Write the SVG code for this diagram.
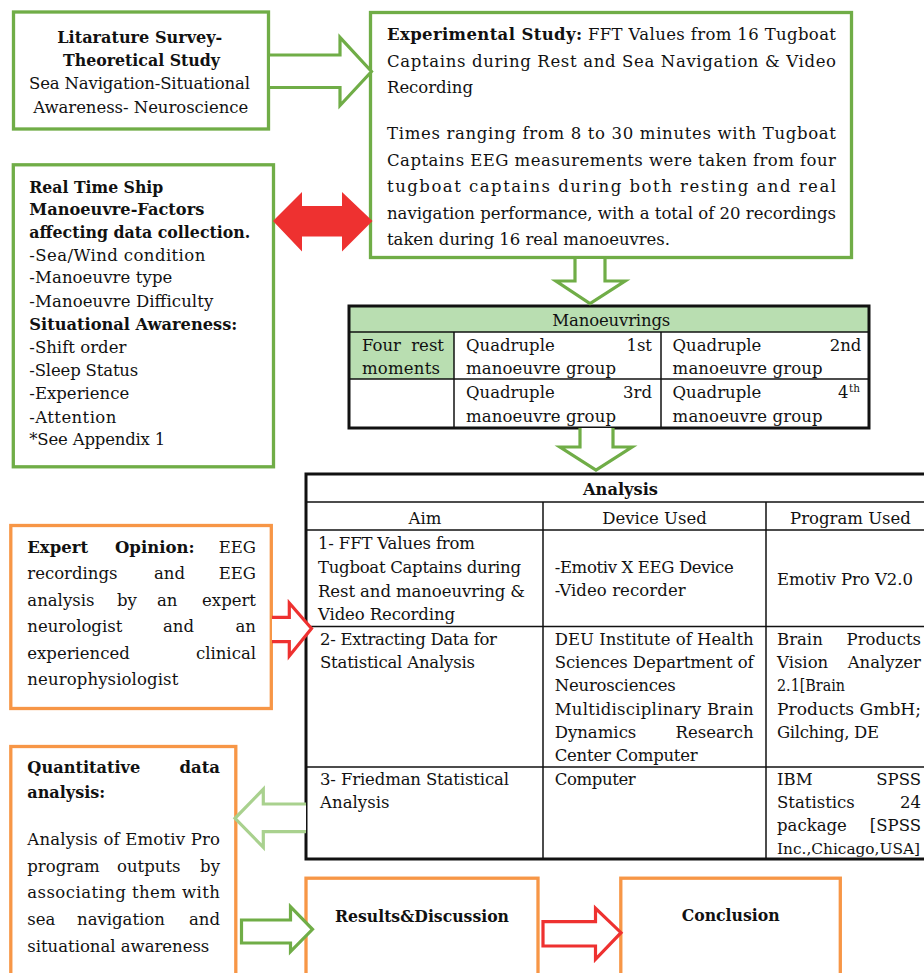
<svg xmlns="http://www.w3.org/2000/svg" width="924" height="973" viewBox="0 0 924 973">
<style>
.t{font-family:"DejaVu Serif","Liberation Serif",serif;font-size:16.5px;fill:#111}
.b{font-weight:bold}
.e{text-anchor:end}
.m{text-anchor:middle}
.gbox{fill:#fff;stroke:#70AD47;stroke-width:3.3}
.obox{fill:#fff;stroke:#F79646;stroke-width:3.3}
.tbl{fill:none;stroke:#111;stroke-width:3}
.ln{stroke:#111;stroke-width:1.5;fill:none}
.hdr{fill:#B9DEB1}
.ag{fill:#fff;stroke:#70AD47;stroke-width:3.2;stroke-linejoin:miter}
.agl{fill:#fff;stroke:#A9D18E;stroke-width:3.2}
.ar{fill:#fff;stroke:#EE3130;stroke-width:3.2}
</style>
<rect width="924" height="973" fill="#fff"/>

<g id="literature">
<rect class="gbox" x="13.5" y="12" width="255" height="117"/>
<text class="t b" x="57.3" y="43.3" textLength="165" lengthAdjust="spacingAndGlyphs">Litarature Survey-</text>
<text class="t b" x="63" y="66.3" textLength="157" lengthAdjust="spacingAndGlyphs">Theoretical Study</text>
<text class="t" x="29" y="89.3" textLength="221">Sea Navigation-Situational</text>
<text class="t" x="33.3" y="112.5" textLength="215">Awareness- Neuroscience</text>
</g>

<g id="experimental">
<rect class="gbox" x="370.5" y="12.5" width="481" height="245"/>
<text class="t" x="387" y="40" textLength="449"><tspan class="b">Experimental Study:</tspan> FFT Values from 16 Tugboat</text>
<text class="t" x="387" y="66.5" textLength="449">Captains during Rest and Sea Navigation &amp; Video</text>
<text class="t" x="387" y="92.5" textLength="86">Recording</text>
<text class="t" x="387" y="139" textLength="449">Times ranging from 8 to 30 minutes with Tugboat</text>
<text class="t" x="387" y="165.5" textLength="449">Captains EEG measurements were taken from four</text>
<text class="t" x="387" y="192" textLength="449">tugboat captains during both resting and real</text>
<text class="t" x="387" y="218.5" textLength="449" lengthAdjust="spacingAndGlyphs">navigation performance, with a total of 20 recordings</text>
<text class="t" x="387" y="245" textLength="283">taken during 16 real manoeuvres.</text>
</g>

<g id="realtime">
<rect class="gbox" x="13.3" y="164.8" width="260.2" height="302"/>
<text class="t b" x="29.3" y="192.7" textLength="134" lengthAdjust="spacingAndGlyphs">Real Time Ship</text>
<text class="t b" x="29.3" y="215.3" textLength="175" lengthAdjust="spacingAndGlyphs">Manoeuvre-Factors</text>
<text class="t b" x="29.3" y="237.7" textLength="221" lengthAdjust="spacingAndGlyphs">affecting data collection.</text>
<text class="t" x="29.3" y="260.5" textLength="176">-Sea/Wind condition</text>
<text class="t" x="29.3" y="283" textLength="143">-Manoeuvre type</text>
<text class="t" x="29.3" y="306.5" textLength="184">-Manoeuvre Difficulty</text>
<text class="t b" x="29.3" y="330" textLength="208" lengthAdjust="spacingAndGlyphs">Situational Awareness:</text>
<text class="t" x="29.3" y="353" textLength="97">-Shift order</text>
<text class="t" x="29.3" y="376" textLength="109">-Sleep Status</text>
<text class="t" x="29.3" y="399" textLength="100">-Experience</text>
<text class="t" x="29.3" y="422.5" textLength="87">-Attention</text>
<text class="t" x="29.3" y="445.3" textLength="136">*See Appendix 1</text>
</g>

<g id="manoeuvrings">
<rect class="hdr" x="349" y="306" width="520" height="26"/>
<rect class="hdr" x="349" y="332" width="105" height="47"/>
<line class="ln" x1="349" y1="332" x2="869" y2="332"/>
<line class="ln" x1="349" y1="379" x2="869" y2="379"/>
<line class="ln" x1="454" y1="332" x2="454" y2="428"/>
<line class="ln" x1="661" y1="332" x2="661" y2="428"/>
<rect class="tbl" x="349" y="306" width="520" height="122"/>
<text class="t" x="552.3" y="326" textLength="118">Manoeuvrings</text>
<text class="t" x="362" y="351">Four</text>
<text class="t e" x="444" y="351">rest</text>
<text class="t" x="362" y="374" textLength="78">moments</text>
<text class="t" x="466" y="351">Quadruple</text>
<text class="t e" x="652" y="351">1st</text>
<text class="t" x="466" y="374" textLength="150">manoeuvre group</text>
<text class="t" x="672.6" y="351">Quadruple</text>
<text class="t e" x="861.4" y="351">2nd</text>
<text class="t" x="672.6" y="374" textLength="150">manoeuvre group</text>
<text class="t" x="466" y="398">Quadruple</text>
<text class="t e" x="652" y="398">3rd</text>
<text class="t" x="466" y="421.5" textLength="150">manoeuvre group</text>
<text class="t" x="672.6" y="398">Quadruple</text>
<text class="t e" x="848.6" y="398">4</text>
<text class="t" x="849" y="392" style="font-size:10.5px">th</text>
<text class="t" x="672.6" y="421.5" textLength="150">manoeuvre group</text>
</g>

<g id="analysis">
<line class="ln" x1="306" y1="502" x2="934" y2="502"/>
<line class="ln" x1="306" y1="530" x2="934" y2="530"/>
<line class="ln" x1="306" y1="626.5" x2="934" y2="626.5"/>
<line class="ln" x1="306" y1="767" x2="934" y2="767"/>
<line class="ln" x1="543" y1="502" x2="543" y2="859"/>
<line class="ln" x1="766" y1="502" x2="766" y2="859"/>
<rect class="tbl" x="306" y="474" width="628" height="385"/>
<text class="t b" x="583" y="495" textLength="75" lengthAdjust="spacingAndGlyphs">Analysis</text>
<text class="t m" x="425" y="524">Aim</text>
<text class="t m" x="654.5" y="524">Device Used</text>
<text class="t m" x="850.5" y="524">Program Used</text>
<text class="t" x="318" y="549" textLength="157">1- FFT Values from</text>
<text class="t" x="318" y="573" textLength="203">Tugboat Captains during</text>
<text class="t" x="318" y="597" textLength="207">Rest and manoeuvring &amp;</text>
<text class="t" x="318" y="620" textLength="137">Video Recording</text>
<text class="t" x="554.7" y="572.5" textLength="179">-Emotiv X EEG Device</text>
<text class="t" x="554.7" y="596" textLength="131">-Video recorder</text>
<text class="t" x="777" y="585" textLength="136">Emotiv Pro V2.0</text>
<text class="t" x="320" y="645" textLength="177">2- Extracting Data for</text>
<text class="t" x="320" y="668" textLength="155">Statistical Analysis</text>
<text class="t" x="554.7" y="645" textLength="199">DEU Institute of Health</text>
<text class="t" x="554.7" y="668" textLength="199">Sciences Department of</text>
<text class="t" x="554.7" y="691" textLength="121">Neurosciences</text>
<text class="t" x="554.7" y="714.5" textLength="199">Multidisciplinary Brain</text>
<text class="t" x="554.7" y="738">Dynamics</text>
<text class="t e" x="753.6" y="738">Research</text>
<text class="t" x="554.7" y="761" textLength="143">Center Computer</text>
<text class="t" x="777" y="645">Brain</text>
<text class="t e" x="921" y="645">Products</text>
<text class="t" x="777" y="668">Vision</text>
<text class="t e" x="921" y="668">Analyzer</text>
<text class="t" x="777" y="691" textLength="68" lengthAdjust="spacingAndGlyphs">2.1[Brain</text>
<text class="t" x="777" y="714.5" textLength="144" lengthAdjust="spacingAndGlyphs">Products GmbH;</text>
<text class="t" x="777" y="738" textLength="102">Gilching, DE</text>
<text class="t" x="320" y="785" textLength="189">3- Friedman Statistical</text>
<text class="t" x="320" y="808" textLength="69.5">Analysis</text>
<text class="t" x="554.7" y="785" textLength="81">Computer</text>
<text class="t" x="777" y="785">IBM</text>
<text class="t e" x="921" y="785">SPSS</text>
<text class="t" x="777" y="808">Statistics</text>
<text class="t e" x="921" y="808">24</text>
<text class="t" x="777" y="831">package</text>
<text class="t e" x="921" y="831">[SPSS</text>
<text class="t" x="777" y="853.5" style="font-size:15px" textLength="143" lengthAdjust="spacingAndGlyphs">Inc.,Chicago,USA]</text>
</g>

<g id="expert">
<rect class="obox" x="10.8" y="525.5" width="260.5" height="183"/>
<text class="t b" x="27.3" y="552.5">Expert</text>
<text class="t b" x="115" y="552.5">Opinion:</text>
<text class="t e" x="256" y="552.5">EEG</text>
<text class="t" x="27.3" y="579">recordings</text>
<text class="t" x="154" y="579">and</text>
<text class="t e" x="256" y="579">EEG</text>
<text class="t" x="27.3" y="605.5">analysis</text>
<text class="t" x="117" y="605.5">by</text>
<text class="t" x="157" y="605.5">an</text>
<text class="t e" x="256" y="605.5">expert</text>
<text class="t" x="27.3" y="632">neurologist</text>
<text class="t" x="163" y="632">and</text>
<text class="t e" x="256" y="632">an</text>
<text class="t" x="27.3" y="658.5">experienced</text>
<text class="t e" x="256" y="658.5">clinical</text>
<text class="t" x="27.3" y="685" textLength="151">neurophysiologist</text>
</g>

<g id="quantitative">
<rect class="obox" x="10.8" y="746.5" width="225" height="240"/>
<text class="t b" x="27.3" y="773" textLength="113" lengthAdjust="spacingAndGlyphs">Quantitative</text>
<text class="t b e" x="220" y="773">data</text>
<text class="t b" x="27.3" y="798" textLength="78" lengthAdjust="spacingAndGlyphs">analysis:</text>
<text class="t" x="27.3" y="845" textLength="192.7">Analysis of Emotiv Pro</text>
<text class="t" x="27.3" y="872">program</text>
<text class="t" x="117" y="872">outputs</text>
<text class="t e" x="220" y="872">by</text>
<text class="t" x="27.3" y="898" textLength="192.7">associating them with</text>
<text class="t" x="27.3" y="925">sea</text>
<text class="t" x="77" y="925">navigation</text>
<text class="t e" x="220" y="925">and</text>
<text class="t" x="27.3" y="951.5" textLength="182">situational awareness</text>
</g>

<g id="results">
<rect class="obox" x="306" y="878.2" width="232" height="110"/>
<text class="t b" x="335" y="921.5" textLength="174" lengthAdjust="spacingAndGlyphs">Results&amp;Discussion</text>
</g>

<g id="conclusion">
<rect class="obox" x="620.8" y="878.2" width="219.5" height="110"/>
<text class="t b" x="681.7" y="921" textLength="98" lengthAdjust="spacingAndGlyphs">Conclusion</text>
</g>

<g id="connectors">
<path class="ag" d="M270,55 H340 V37.3 L371.5,71.5 L340,105.5 V87.5 H270"/>
<polygon fill="#EE3130" points="273,221 302,192 302,206 342,206 342,192 372.5,221 342,251.5 342,236.5 302,236.5 302,251.5"/>
<path class="ag" d="M575,259 V281 H556 L590,303.5 L625,281 H605 V259"/>
<path class="ag" d="M580,428 V447 H560 L596,470 L632,447 H613 V428"/>
<path class="ar" d="M272,617.3 H289.3 V603 L311.5,628.5 L289.3,656 V641.7 H272"/>
<path class="agl" d="M306,804 H263.3 V789.3 L235,818.3 L263.3,847.3 V831.7 H306"/>
<polygon class="ag" points="241.5,920 290.5,920 290.5,906.7 312.5,929.3 290.5,951.7 290.5,943 241.5,943"/>
<polygon class="ar" points="543,921.7 595.5,921.7 595.5,908.3 621,932.7 595.5,959.3 595.5,946 543,946"/>
</g>
</svg>
